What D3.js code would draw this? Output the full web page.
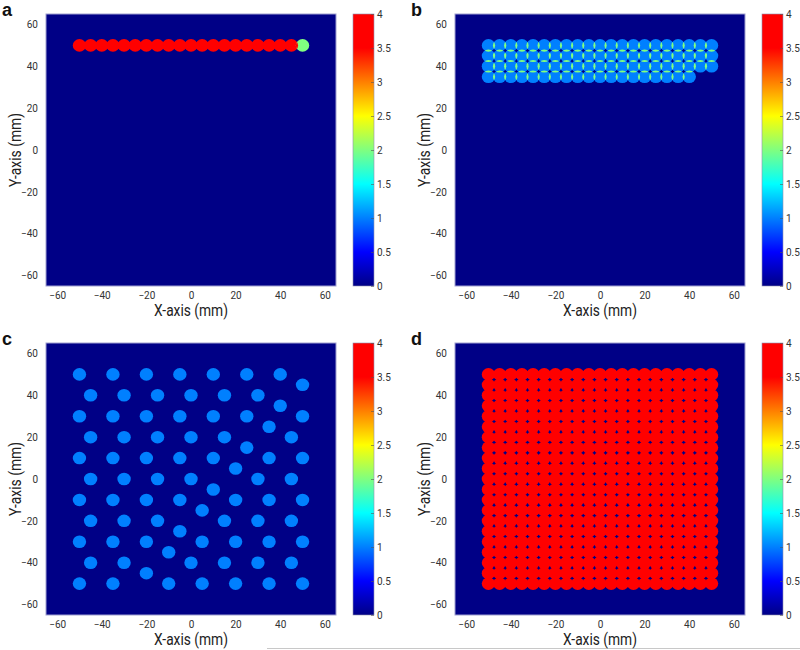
<!DOCTYPE html>
<html>
<head>
<meta charset="utf-8">
<script src="https://cdn.jsdelivr.net/npm/d3@7"></script>
<style>
  body { margin: 0; background: #fff; }
  svg { display: block; }
  text { font-family: Roboto, "DejaVu Sans Condensed", sans-serif; }
</style>
</head>
<body>
<svg id="chart"></svg>
<script>
// positions of the scan grid (mm)
const gridPos = [-50,-45,-40,-35,-30,-25,-20,-15,-10,-5,0,5,10,15,20,25,30,35,40,45,50]
const spotRadius = 3

// a: one row at y = 50
const aRowY = 50
const aValues = [4,4,4,4,4,4,4,4,4,4,4,4,4,4,4,4,4,4,4,4,2]

// b: four rows, last one shorter
const bRowY = [50, 45, 40, 35]
const bRowLen = [21, 21, 21, 19]
const bValue = 1

// c: scattered spots
const cX = [-50,-35,-20,-5,10,25,40,50,
            -45,-30,-15,0,15,30,40,
            -50,-35,-20,-5,10,25,50,35,
            -45,-30,-15,0,15,45,25,
            -50,-35,-20,-5,10,35,50,20,
            -45,-30,-15,0,30,45,10,
            -50,-35,-20,-5,20,35,50,5,
            -45,-30,-15,15,30,45,-5,
            -50,-35,-20,5,20,35,50,-10,
            -45,-30,0,15,30,45,-20,
            -50,-35,-10,5,20,35,50]
const cY = [50,50,50,50,50,50,50,45,
            40,40,40,40,40,40,35,
            30,30,30,30,30,30,30,25,
            20,20,20,20,20,20,15,
            10,10,10,10,10,10,10,5,
            0,0,0,0,0,0,-5,
            -10,-10,-10,-10,-10,-10,-10,-15,
            -20,-20,-20,-20,-20,-20,-25,
            -30,-30,-30,-30,-30,-30,-30,-35,
            -40,-40,-40,-40,-40,-40,-45,
            -50,-50,-50,-50,-50,-50,-50]
const cValue = 1

// d: full square grid
const dValue = 4

const axisTicks = [-60, -40, -20, 0, 20, 40, 60]
const cbTicks = [0, 0.5, 1, 1.5, 2, 2.5, 3, 3.5, 4]
const cmapStops = [0, 0.5, 1.5, 2.5, 3.5, 4]
const cmapColors = ['#000086', '#0000ff', '#00ffff', '#ffff00', '#ff0000', '#ff0000']

const width = 800, height = 650
const plotW = 290, plotH = 272

const color = d3.scaleLinear().domain(cmapStops).range(cmapColors).clamp(true)

const panels = [
  { id: 'a', ox: 0, oy: 0,
    spots: gridPos.map((x, i) => ({ x, y: aRowY, v: aValues[i] })) },
  { id: 'b', ox: 409, oy: 0,
    spots: bRowY.flatMap((y, r) => gridPos.slice(0, bRowLen[r]).map(x => ({ x, y, v: bValue }))) },
  { id: 'c', ox: 0, oy: 329,
    spots: cX.map((x, i) => ({ x, y: cY[i], v: cValue })) },
  { id: 'd', ox: 409, oy: 329,
    spots: gridPos.flatMap(y => gridPos.map(x => ({ x, y, v: dValue }))) }
]

const svg = d3.select('#chart').attr('width', width).attr('height', height)
const defs = svg.append('defs')

// colorbar gradient
const grad = defs.append('linearGradient').attr('id', 'cmap')
  .attr('x1', 0).attr('y1', 1).attr('x2', 0).attr('y2', 0)
cmapStops.forEach((s, i) => {
  grad.append('stop').attr('offset', s / 4).attr('stop-color', cmapColors[i])
})

// thin gray line at the very bottom
svg.append('line')
  .attr('x1', 267).attr('x2', width).attr('y1', 648.5).attr('y2', 648.5)
  .attr('stroke', '#c8c8c8').attr('stroke-width', 1)

panels.forEach(p => {
  const left = p.ox + 46, top = p.oy + 14
  const x = d3.scaleLinear().domain([-65, 65]).range([left, left + plotW])
  const y = d3.scaleLinear().domain([-65, 65]).range([top + plotH, top])
  const rx = x(spotRadius) - x(0), ry = y(0) - y(spotRadius)

  const g = svg.append('g')

  defs.append('clipPath').attr('id', 'plot-' + p.id)
    .append('rect').attr('x', left).attr('y', top).attr('width', plotW).attr('height', plotH)

  const plot = g.append('g').attr('clip-path', 'url(#plot-' + p.id + ')')
  plot.append('rect')
    .attr('x', left).attr('y', top).attr('width', plotW).attr('height', plotH)
    .attr('fill', color(0))

  plot.selectAll('ellipse.spot').data(p.spots).enter().append('ellipse')
    .attr('class', 'spot')
    .attr('cx', d => x(d.x)).attr('cy', d => y(d.y))
    .attr('rx', rx).attr('ry', ry)
    .attr('fill', d => color(d.v))

  // where two spots overlap the doses add up
  const pairs = []
  p.spots.forEach((s, i) => {
    for (let j = i + 1; j < p.spots.length; ++j) {
      const t = p.spots[j]
      if (Math.hypot(s.x - t.x, s.y - t.y) < 2 * spotRadius) pairs.push([i, j])
    }
  })
  const clipped = new Set(pairs.map(q => q[0]))
  clipped.forEach(i => {
    defs.append('clipPath').attr('id', 'spot-' + p.id + '-' + i)
      .append('ellipse')
      .attr('cx', x(p.spots[i].x)).attr('cy', y(p.spots[i].y))
      .attr('rx', rx).attr('ry', ry)
  })
  pairs.forEach(([i, j]) => {
    const s = p.spots[i], t = p.spots[j]
    plot.append('g').attr('clip-path', 'url(#spot-' + p.id + '-' + i + ')')
      .append('ellipse')
      .attr('cx', x(t.x)).attr('cy', y(t.y))
      .attr('rx', rx).attr('ry', ry)
      .attr('fill', color(s.v + t.v))
  })

  g.append('rect')
    .attr('x', left).attr('y', top).attr('width', plotW).attr('height', plotH)
    .attr('fill', 'none').attr('stroke', '#a0a0d0').attr('stroke-width', 1)

  // axes
  const xAxis = g.append('g').attr('transform', `translate(0,${top + plotH})`)
    .call(d3.axisBottom(x).tickValues(axisTicks).tickSize(0).tickPadding(6))
  const yAxis = g.append('g').attr('transform', `translate(${left},0)`)
    .call(d3.axisLeft(y).tickValues(axisTicks).tickSize(0).tickPadding(8))
  ;[xAxis, yAxis].forEach(a => {
    a.select('.domain').remove()
    a.selectAll('text').attr('font-size', 10).attr('fill', '#333')
      .style('font-family', 'Roboto, sans-serif')
  })

  g.append('text')
    .attr('x', (left + left + plotW) / 2).attr('y', top + plotH + 30)
    .attr('text-anchor', 'middle').attr('font-size', 16).attr('fill', '#222')
    .attr('textLength', 74).attr('lengthAdjust', 'spacingAndGlyphs')
    .text('X-axis (mm)')
  g.append('text')
    .attr('transform', `translate(${p.ox + 21},${top + plotH / 2}) rotate(-90)`)
    .attr('text-anchor', 'middle').attr('font-size', 16).attr('fill', '#222')
    .attr('textLength', 74).attr('lengthAdjust', 'spacingAndGlyphs')
    .text('Y-axis (mm)')

  // panel letter
  g.append('text')
    .attr('x', p.ox + 2).attr('y', p.oy + 16)
    .attr('font-size', 18).attr('font-weight', 'bold').attr('fill', '#111')
    .style('font-family', '"Liberation Sans", Arial, sans-serif')
    .text(p.id)

  // colorbar
  const cbLeft = p.ox + 353, cbW = 21
  const cb = d3.scaleLinear().domain([0, 4]).range([top + plotH, top])
  g.append('rect')
    .attr('x', cbLeft).attr('y', top).attr('width', cbW).attr('height', plotH)
    .attr('fill', 'url(#cmap)').attr('stroke', '#9090b0').attr('stroke-width', 0.6)
  const cbAxis = g.append('g').attr('transform', `translate(${cbLeft + cbW},0)`)
    .call(d3.axisRight(cb).tickValues(cbTicks).tickFormat(d3.format('')).tickSize(-3).tickPadding(3))
  cbAxis.select('.domain').remove()
  cbAxis.selectAll('line').attr('stroke', '#555').attr('stroke-width', 0.6)
  cbAxis.selectAll('text').attr('font-size', 10).attr('fill', '#333')
    .style('font-family', 'Roboto, sans-serif')
})
</script>
</body>
</html>
